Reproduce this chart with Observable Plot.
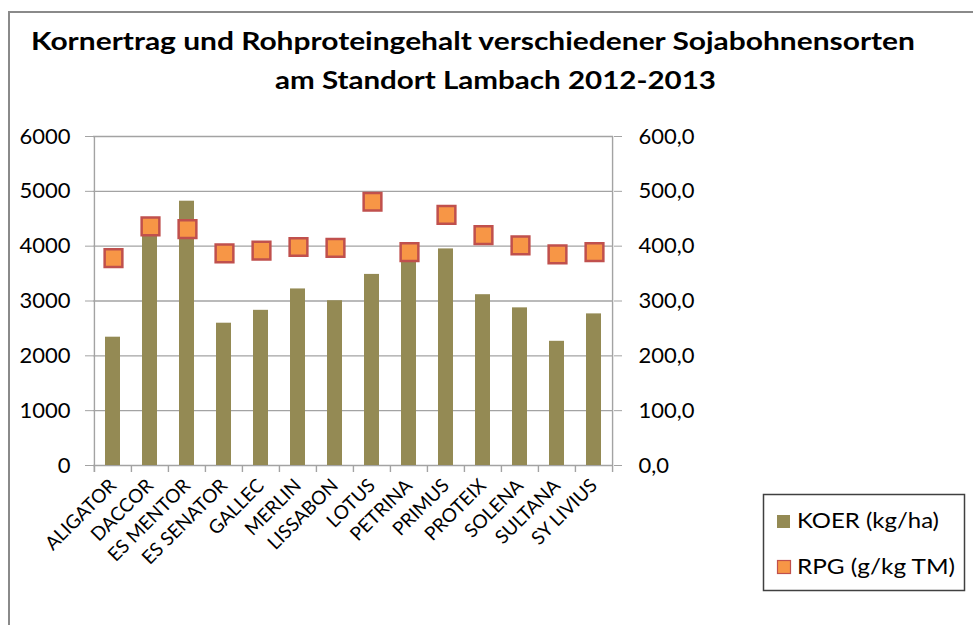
<!DOCTYPE html>
<html>
<head>
<meta charset="utf-8">
<script src="https://cdn.jsdelivr.net/npm/d3@7"></script>
<script src="https://cdn.jsdelivr.net/npm/@observablehq/plot@0.6"></script>
<style>
  html, body { margin: 0; padding: 0; background: white; }
  #wrap { position: relative; width: 973px; height: 625px; overflow: hidden; background: white; font-family: Lato, "Open Sans", sans-serif; }
  #wrap svg.layer { position: absolute; left: 0; top: 0; }
  #border { position: absolute; left: 8px; top: 11px; width: 2000px; height: 2000px; border: 2px solid #8a8a8a; }
</style>
</head>
<body>
<div id="wrap">
  <div id="border"></div>
</div>
<script>
// ---- Data ----
const titleLines = ["Kornertrag und Rohproteingehalt verschiedener Sojabohnensorten", "am Standort Lambach 2012-2013"];
const categories = ["ALIGATOR","DACCOR","ES MENTOR","ES SENATOR","GALLEC","MERLIN","LISSABON","LOTUS","PETRINA","PRIMUS","PROTEIX","SOLENA","SULTANA","SY LIVIUS"];
const koer = [2340, 4380, 4820, 2595, 2830, 3220, 3005, 3485, 3900, 3950, 3115, 2875, 2265, 2765];
const rpg  = [378, 436, 431, 387, 392, 398.5, 397, 481, 389, 457, 420, 401.5, 385, 389];
const leftTicks  = [0, 1000, 2000, 3000, 4000, 5000, 6000];
const rightTicks = [0, 100, 200, 300, 400, 500, 600];
const seriesNames = ["KOER (kg/ha)", "RPG (g/kg TM)"];

const data = categories.map((c, i) => ({cat: c, koer: koer[i], rpg: rpg[i]}));

// ---- Layout ----
const W = 973, H = 625;
const mL = 93, mR = W - 613, mT = 136, mB = H - 465;
const step = (W - mL - mR) / categories.length;
const gridColor = "#a3a3a3";
const barColor = "#948A54";
const dotFill = "#F79646";
const dotStroke = "#C0504D";

const xScale = {domain: categories, paddingInner: 0.6, paddingOuter: 0.3};
const common = {width: W, height: H, marginLeft: mL, marginRight: mR, marginTop: mT, marginBottom: mB};

const plot1 = Plot.plot({
  ...common,
  style: {fontFamily: "Lato, 'Open Sans', sans-serif", fontSize: "22px", background: "transparent", color: "black"},
  x: {...xScale, label: null},
  y: {domain: [0, 6000], label: null},
  marks: [
    Plot.ruleY(leftTicks, {stroke: gridColor, strokeWidth: 1.4}),
    Plot.barY(data, {x: "cat", y: "koer", fill: barColor}),
    // category boundary ticks
    Plot.ruleX(categories, {x: d => d, y1: 0, y2: -128, dx: -step / 2, stroke: gridColor, strokeWidth: 1.4}),
    Plot.ruleX([categories[categories.length - 1]], {x: d => d, y1: -128, y2: 6000, dx: step / 2, stroke: gridColor, strokeWidth: 1.4}),
    Plot.ruleX([categories[0]], {x: d => d, y1: -128, y2: 6000, dx: -step / 2, stroke: gridColor, strokeWidth: 1.4}),
    Plot.axisY({anchor: "left", ticks: leftTicks, tickFormat: d => String(d), tickSize: 8, tickPadding: 15, stroke: gridColor, fill: "black", label: null}),
    Plot.axisX({tickSize: 0, tickRotate: -45, tickPadding: 17, fontSize: 19, fill: "black", label: null})
  ]
});
plot1.classList.add("layer");

const plot2 = Plot.plot({
  ...common,
  style: {fontFamily: "Lato, 'Open Sans', sans-serif", fontSize: "22px", background: "transparent", color: "black"},
  x: {...xScale, axis: null},
  y: {domain: [0, 600], label: null},
  marks: [
    Plot.axisY({anchor: "right", ticks: rightTicks, tickFormat: d => d.toFixed(1).replace(".", ","), tickSize: 8, tickPadding: 17, stroke: gridColor, fill: "black", label: null}),
    Plot.dot(data, {x: "cat", y: "rpg", symbol: "square", r: 10, fill: dotFill, stroke: dotStroke, strokeWidth: 2.5})
  ]
});
plot2.classList.add("layer");

const wrap = document.getElementById("wrap");
wrap.appendChild(plot1);
wrap.appendChild(plot2);

// ---- Title and legend overlay ----
const over = d3.create("svg").attr("class", "layer").attr("width", W).attr("height", H)
  .style("font-family", "Lato, 'Open Sans', sans-serif");

over.append("text").attr("x", 31).attr("y", 50).attr("font-size", 25).attr("font-weight", "bold")
  .attr("textLength", 884).attr("lengthAdjust", "spacingAndGlyphs").text(titleLines[0]);
over.append("text").attr("x", 275).attr("y", 89).attr("font-size", 25).attr("font-weight", "bold")
  .attr("textLength", 441).attr("lengthAdjust", "spacingAndGlyphs").text(titleLines[1]);

const lg = over.append("g");
lg.append("rect").attr("x", 763.5).attr("y", 494.5).attr("width", 201).attr("height", 96)
  .attr("fill", "white").attr("stroke", "#404040").attr("stroke-width", 1.5);
lg.append("rect").attr("x", 777).attr("y", 515).attr("width", 13).attr("height", 13).attr("fill", barColor);
lg.append("rect").attr("x", 777.5).attr("y", 560.5).attr("width", 13).attr("height", 13)
  .attr("fill", dotFill).attr("stroke", dotStroke).attr("stroke-width", 1.2);
lg.append("text").attr("x", 797).attr("y", 528).attr("font-size", 21)
  .attr("textLength", 142).attr("lengthAdjust", "spacingAndGlyphs").text(seriesNames[0]);
lg.append("text").attr("x", 797).attr("y", 574).attr("font-size", 21)
  .attr("textLength", 158).attr("lengthAdjust", "spacingAndGlyphs").text(seriesNames[1]);

wrap.appendChild(over.node());
</script>
</body>
</html>
